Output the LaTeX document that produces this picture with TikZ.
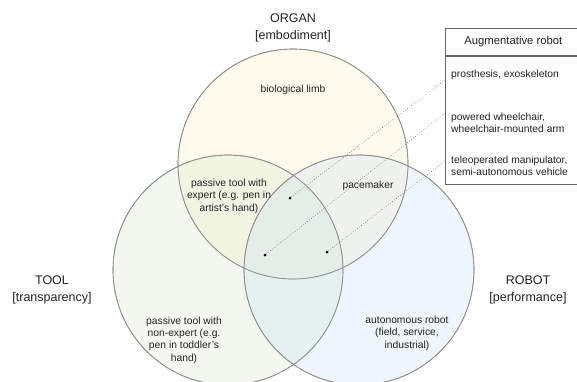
\documentclass[tikz,border=0pt]{standalone}
\usepackage{fontspec}
\setmainfont{Liberation Sans}
\definecolor{organfill}{HTML}{FFF2CC}
\definecolor{toolfill}{HTML}{D9EAD3}
\definecolor{robotfill}{HTML}{CFE2F3}
\definecolor{ringgray}{HTML}{8E8E8E}
\definecolor{boxgray}{HTML}{666666}
\definecolor{inkgray}{HTML}{222222}
\begin{document}
\begin{tikzpicture}[x=1pt,y=-1pt,
    venn/.style={draw=ringgray, line width=0.7pt, fill opacity=0.4},
    setlabel/.style={align=center, text=inkgray, font=\fontsize{12.5}{17}\selectfont},
    area/.style={align=center, text=inkgray, font=\fontsize{10.3}{12.4}\selectfont},
    rowtext/.style={align=left, anchor=west, inner sep=0pt, text=inkgray, font=\fontsize{10.3}{12.2}\selectfont},
    dot/.style={circle, fill=black, inner sep=0pt, minimum size=3pt},
    leader/.style={dotted, draw=boxgray, line width=0.6pt}]
  \useasboundingbox (0,0) rectangle (577,381);
  \fill[venn, fill=organfill] (293,164) circle (115pt);
  \fill[venn, fill=toolfill, fill opacity=0.35] (228,270) circle (115pt);
  \fill[venn, fill=robotfill, fill opacity=0.35] (359,270) circle (115pt);
  \draw[venn] (293,164) circle (115pt) (228,270) circle (115pt) (359,270) circle (115pt);
  \node (organ) [setlabel] at (293,28) {ORGAN\\{[}embodiment{]}};
  \node (tool) [setlabel] at (52,290) {TOOL\\{[}transparency{]}};
  \node (robot) [setlabel] at (528,290) {ROBOT\\{[}performance{]}};
  \node (limb) [area] at (293,90) {biological limb};
  \node (expert) [area] at (229,196) {passive tool with\\expert (e.g. pen in\\artist’s hand)};
  \node (pacer) [area] at (368,186) {pacemaker};
  \node (novice) [area] at (184,340) {passive tool with\\non-expert (e.g.\\pen in toddler’s\\hand)};
  \node (auto) [area] at (407,333) {autonomous robot\\(field, service,\\industrial)};
  \node (head) [draw=boxgray, fill=white, line width=0.7pt, anchor=north west, minimum width=136, minimum height=27,
    text=inkgray, font=\fontsize{11.3}{13}\selectfont] at (445,28) {Augmentative robot};
  \node (body) [draw=boxgray, fill=white, line width=0.7pt, anchor=north west, minimum width=136, minimum height=128]
    at (head.south west) {};
  \node (prost) [rowtext] at (451,75) {prosthesis, exoskeleton};
  \node (chair) [rowtext] at (451,123) {powered wheelchair,\\wheelchair-mounted arm};
  \node (tele) [rowtext] at (451,166) {teleoperated manipulator,\\semi-autonomous vehicle};
  \coordinate (r1) at (445,80);
  \coordinate (r2) at (445,113);
  \coordinate (r3) at (445,161);
  \node (d1) [dot] at (290,198) {};
  \node (d2) [dot] at (265,255) {};
  \node (d3) [dot] at (327,252) {};
  \draw[leader] (d1) -- (r1);
  \draw[leader] (d2) -- (r2);
  \draw[leader] (d3) -- (r3);
\end{tikzpicture}
\end{document}
